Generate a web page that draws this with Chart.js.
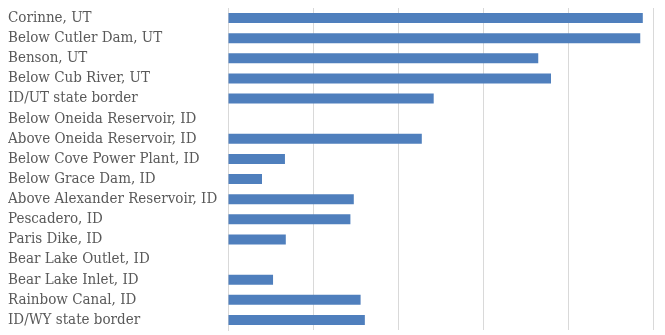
<!DOCTYPE html>
<html>
<head>
<meta charset="utf-8">
<script src="https://cdn.jsdelivr.net/npm/chart.js@4/dist/chart.umd.min.js"></script>
<style>
	html, body { margin: 0; padding: 0; background: #fff; }
	#wrap { width: 665px; height: 335px; }
</style>
</head>
<body>
<div id="wrap"><canvas id="sites"></canvas></div>
<script>
'use strict';

var sites = [
	'Corinne, UT',
	'Below Cutler Dam, UT',
	'Benson, UT',
	'Below Cub River, UT',
	'ID/UT state border',
	'Below Oneida Reservoir, ID',
	'Above Oneida Reservoir, ID',
	'Below Cove Power Plant, ID',
	'Below Grace Dam, ID',
	'Above Alexander Reservoir, ID',
	'Pescadero, ID',
	'Paris Dike, ID',
	'Bear Lake Outlet, ID',
	'Bear Lake Inlet, ID',
	'Rainbow Canal, ID',
	'ID/WY state border'
];

var siteValues = [48.8, 48.5, 36.5, 38.0, 24.2, 0, 22.8, 6.7, 4.0, 14.8, 14.4, 6.8, 0, 5.3, 15.6, 16.1];

var axisMax = 50;
var axisStep = 10;

(function () {
	var grey = '#d9d9d9';

	var data = {
		labels: sites,
		datasets: [
			{
				label: '',
				data: siteValues,
				backgroundColor: '#4f7fbd',
				borderColor: '#4f7fbd',
				borderWidth: 0,
				barPercentage: 0.5,
				categoryPercentage: 1
			}
		]
	};

	var config = {
		type: 'bar',
		data: data,
		options: {
			indexAxis: 'y',
			responsive: true,
			maintainAspectRatio: false,
			animation: false,
			layout: {
				padding: { top: 8, bottom: 5, left: 8, right: 12 }
			},
			plugins: {
				legend: { display: false },
				tooltip: { enabled: false }
			},
			scales: {
				x: {
					min: 0,
					max: axisMax,
					ticks: { display: false, stepSize: axisStep },
					grid: { color: grey, lineWidth: 1, drawTicks: false },
					border: { display: false },
					afterFit: function (scale) {
						scale.height = 0;
					}
				},
				y: {
					grid: { display: false, drawTicks: false },
					border: { display: true, color: grey },
					ticks: {
						autoSkip: false,
						crossAlign: 'far',
						padding: 0,
						color: '#595959',
						// weight string doubles as font-stretch in the canvas font shorthand;
						// small lineHeight keeps the end labels from padding the plot area
						font: { family: "'DejaVu Serif'", weight: 'normal condensed', size: 15, lineHeight: 0.6 }
					},
					afterFit: function (scale) {
						scale.width = 220;
					}
				}
			}
		}
	};

	new Chart(document.getElementById('sites'), config);
})();
</script>
</body>
</html>
